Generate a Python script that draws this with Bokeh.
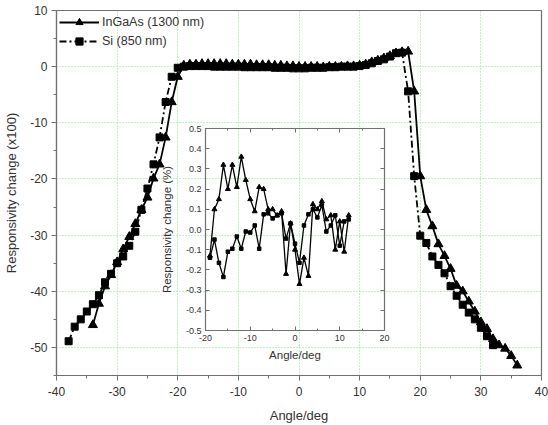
from bokeh.plotting import figure
from bokeh.models import Range1d, Legend, LegendItem, FixedTicker, LinearAxis
from bokeh.embed import file_html
from bokeh.resources import INLINE

# ---------------- data ----------------
# InGaAs (1300 nm), angle in degrees
ingaas_x = list(range(-34, 37))
ingaas_y = [-46.0, -42.2, -39.1, -37.1, -34.8, -32.5, -30.3, -28.0, -25.5, -23.3,
            -19.9, -17.4, -12.6, -6.3, -1.8,
            0.2, 0.4, 0.4, 0.5, 0.5, 0.5, 0.5, 0.5, 0.4, 0.4,
            0.4, 0.4, 0.3, 0.3, 0.3, 0.2, 0.2, 0.1, 0.1, 0.0,
            0.0, 0.0, 0.0, -0.1, 0.0, 0.0, 0.0, 0.1, 0.1, 0.2,
            0.4, 0.8, 1.1, 1.5, 1.9, 2.4, 2.6, 2.7,
            -4.4, -19.5, -25.5, -28.4, -31.6, -33.7, -36.0, -39.0, -40.0, -41.8,
            -43.6, -45.5, -46.7, -48.5, -49.6, -50.2, -51.5, -53.2]

# Si (850 nm)
si_x = list(range(-38, 33))
si_y = [-48.9, -46.3, -45.0, -43.6, -42.3, -40.7, -38.4, -36.9, -35.0, -33.8,
        -31.9, -29.4, -25.5, -21.7, -17.4, -12.6, -6.3, -1.8, -0.2,
        0.0, 0.1, 0.1, 0.1, 0.1, 0.0, 0.0, 0.0, 0.0, 0.0,
        -0.1, -0.1, -0.1, -0.1, -0.1, -0.2, -0.2, -0.2, -0.3, -0.3,
        -0.3, -0.2, -0.2, -0.2, -0.1, -0.1, 0.0, 0.0, 0.0, 0.1,
        0.3, 0.6, 1.0, 1.3, 1.8, 2.4, 2.5,
        -4.4, -19.5, -30.1, -31.4, -33.8, -35.3, -36.8, -39.1, -40.8, -42.4,
        -43.8, -45.0, -46.5, -48.0, -49.6]

# inset: responsivity change (%)
inset_x = list(range(-19, 13))
inset_tri = [-0.13, 0.10, 0.15, 0.32, 0.20, 0.32, 0.21, 0.36, 0.245, 0.15,
             0.09, 0.21, 0.20, 0.10, 0.10, 0.07, 0.09, -0.22, 0.03, -0.10,
             -0.27, -0.14, -0.23, 0.125, 0.10, 0.14, 0.05, 0.07, -0.10, 0.04,
             -0.11, 0.07]
inset_sq = [-0.14, -0.05, -0.165, -0.235, -0.11, -0.095, -0.035, -0.095, -0.01, -0.015,
            0.02, -0.095, 0.075, 0.08, 0.055, 0.07, 0.08, -0.045, 0.03, -0.07,
            -0.165, 0.02, 0.075, 0.10, 0.06, 0.12, -0.01, 0.02, 0.07, -0.08,
            0.04, 0.05]

main_xticks = [-40, -30, -20, -10, 0, 10, 20, 30, 40]
main_xminor = [-35, -25, -15, -5, 5, 15, 25, 35]
main_yticks = [-50, -40, -30, -20, -10, 0, 10]
main_yminor = [-55, -45, -35, -25, -15, -5, 5]
inset_xticks = [-20, -10, 0, 10, 20]
inset_xminor = [-15, -5, 5, 15]
inset_yticks = [-0.5, -0.4, -0.3, -0.2, -0.1, 0.0, 0.1, 0.2, 0.3, 0.4, 0.5]

FONT = "Liberation Sans"
TXT = "#333333"
AX = "#707070"

# ---------------- main figure ----------------
p = figure(width=548, height=425, x_range=Range1d(-40, 40), y_range=Range1d(-55, 10),
           output_backend="svg", toolbar_location=None,
           min_border_left=56, min_border_right=7, min_border_top=10, min_border_bottom=49)
p.outline_line_color = AX
p.outline_line_width = 1.2

for ax, tk, mn in ((p.below[0], main_xticks, main_xminor), (p.left[0], main_yticks, main_yminor)):
    ax.ticker = FixedTicker(ticks=tk, minor_ticks=mn)
    ax.major_label_overrides = {t: str(t) for t in tk}
    ax.axis_line_color = AX
    ax.axis_line_width = 1.2
    ax.major_tick_line_color = AX
    ax.minor_tick_line_color = AX
    ax.major_tick_in = 0
    ax.major_tick_out = 5
    ax.minor_tick_in = 0
    ax.minor_tick_out = 3
    ax.major_label_text_font = FONT
    ax.major_label_text_font_size = "12px"
    ax.major_label_text_color = TXT
    ax.axis_label_text_font = FONT
    ax.axis_label_text_font_size = "13px"
    ax.axis_label_text_font_style = "normal"
    ax.axis_label_text_color = TXT

p.below[0].axis_label = "Angle/deg"
p.below[0].major_label_standoff = 6
p.below[0].axis_label_standoff = 9
p.left[0].axis_label = "Responsivity change (x100)"
p.left[0].major_label_standoff = 4
p.left[0].axis_label_standoff = 8

p.xgrid.ticker = FixedTicker(ticks=main_xticks)
p.ygrid.ticker = FixedTicker(ticks=main_yticks)
p.grid.grid_line_color = "#88e088"
p.grid.grid_line_dash = "1 2"
p.grid.grid_line_width = 1

l1 = p.line(ingaas_x, ingaas_y, line_color="black", line_width=1.8)
s1 = p.scatter(ingaas_x, ingaas_y, marker="triangle", size=9, color="black")
l2 = p.line(si_x, si_y, line_color="black", line_width=1.8, line_dash="7 3 2 3")
s2 = p.scatter(si_x, si_y, marker="square", size=7, color="black")

legend = Legend(items=[LegendItem(label="InGaAs (1300 nm)", renderers=[l1, s1]),
                       LegendItem(label="Si (850 nm)", renderers=[l2, s2])],
                location="top_left", margin=0, padding=3, spacing=1,
                glyph_width=40, glyph_height=18, label_height=18, label_standoff=3,
                label_text_font=FONT, label_text_font_size="12.5px", label_text_color=TXT,
                background_fill_alpha=0, border_line_alpha=0)
p.add_layout(legend)

# ---------------- inset figure ----------------
ins = figure(width=233, height=242, x_range=Range1d(-20, 20), y_range=Range1d(-0.5, 0.5),
             output_backend="svg", toolbar_location=None,
             min_border_left=44, min_border_right=6, min_border_top=6, min_border_bottom=34,
             background_fill_alpha=0, border_fill_alpha=0,
             styles={"position": "absolute", "left": "157px", "top": "122px"})
ins.outline_line_color = AX
ins.outline_line_width = 1.2
ins.grid.visible = False

top_ax = LinearAxis()
right_ax = LinearAxis()
ins.add_layout(top_ax, "above")
ins.add_layout(right_ax, "right")
bot_ax = ins.below[0]
left_ax = ins.left[0]

for ax in (bot_ax, top_ax):
    ax.ticker = FixedTicker(ticks=inset_xticks, minor_ticks=inset_xminor)
    ax.major_label_overrides = {t: str(t) for t in inset_xticks}
for ax in (left_ax, right_ax):
    ax.ticker = FixedTicker(ticks=inset_yticks)
    ax.major_label_overrides = {t: f"{t:.1f}" for t in inset_yticks}

for ax in (bot_ax, left_ax, top_ax, right_ax):
    ax.axis_line_color = AX
    ax.major_tick_line_color = AX
    ax.minor_tick_line_color = AX
    ax.major_tick_in = 4
    ax.major_tick_out = 0
    ax.minor_tick_in = 2
    ax.minor_tick_out = 0
    ax.major_label_text_font = FONT
    ax.major_label_text_font_size = "9px"
    ax.major_label_text_color = TXT
    ax.axis_label_text_font = FONT
    ax.axis_label_text_font_size = "11.5px"
    ax.axis_label_text_font_style = "normal"
    ax.axis_label_text_color = TXT

for ax in (top_ax, right_ax):
    ax.major_label_text_font_size = "0px"
    ax.major_label_text_color = None
    ax.major_label_standoff = 0

bot_ax.axis_label = "Angle/deg"
bot_ax.major_label_standoff = 4
bot_ax.axis_label_standoff = 5
left_ax.axis_label = "Responsivity change (%)"
left_ax.major_label_standoff = 4
left_ax.axis_label_standoff = 10

ins.line(inset_x, inset_tri, line_color="black", line_width=1.3)
ins.scatter(inset_x, inset_tri, marker="triangle", size=5, color="black")
ins.line(inset_x, inset_sq, line_color="black", line_width=1.3)
ins.scatter(inset_x, inset_sq, marker="square", size=3.5, color="black")

open("out.html", "w").write(file_html([p, ins], INLINE))
